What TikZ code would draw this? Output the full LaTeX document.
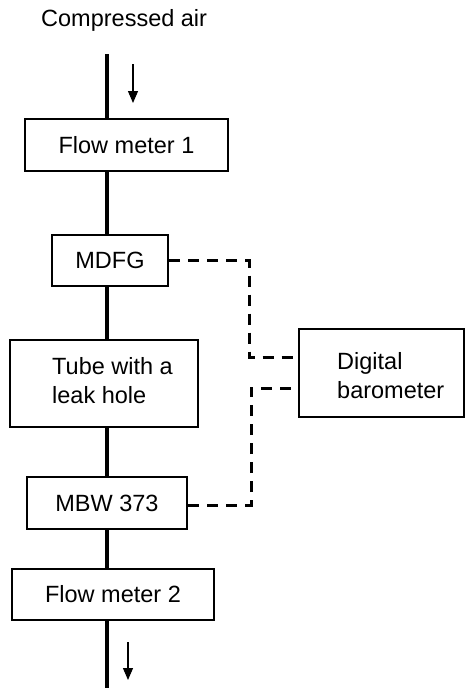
\documentclass[tikz,border=0pt]{standalone}
\usepackage{fontspec}
\setmainfont{Liberation Sans}
\usetikzlibrary{arrows.meta,calc}
\begin{document}
\begin{tikzpicture}[x=1pt,y=-1pt,
  txt/.style={font=\fontsize{23.5pt}{28.5pt}\selectfont, inner sep=0pt},
  box/.style={draw, line width=2pt, inner sep=0pt, font=\fontsize{23.5pt}{28.5pt}\selectfont},
  pipe/.style={line width=3.2pt},
  sig/.style={line width=3pt, dash pattern=on 11pt off 8pt},
  flow/.style={line width=1.1pt, -{Triangle[width=10pt,length=12pt]}}]
\useasboundingbox (0,0) rectangle (465,689);
% boxes
\node[box, minimum width=203pt, minimum height=52pt] (fm1) at (126.5,145) {Flow meter 1};
\node[box, minimum width=116pt, minimum height=51pt] (mdfg) at (110,260.5) {MDFG};
\node[box, minimum width=188pt, minimum height=87pt] (tube) at (104,383.5) {};
\node[txt, anchor=base west, align=left] (tubetxt) at (52,403.3) {Tube with a\\leak hole};
\node[box, minimum width=165pt, minimum height=88pt] (baro) at (381.5,373) {};
\node[txt, anchor=base west, align=left] (barotxt) at (337,398.3) {Digital\\barometer};
\node[box, minimum width=160pt, minimum height=52pt] (mbw) at (107,503) {MBW 373};
\node[box, minimum width=202pt, minimum height=51pt] (fm2) at (113,594.5) {Flow meter 2};
\node[txt, anchor=base west] (air) at (41,26.7) {Compressed air};
% main line
\coordinate (top) at (107,54);
\coordinate (bot) at (107,688);
\draw[pipe] (top) -- (top |- fm1.north);
\draw[pipe] (fm1.south -| top) -- (mdfg.north -| top);
\draw[pipe] (mdfg.south -| top) -- (tube.north -| top);
\draw[pipe] (tube.south -| top) -- (mbw.north -| top);
\draw[pipe] (mbw.south -| top) -- (fm2.north -| top);
\draw[pipe] (fm2.south -| top) -- (bot);
% flow arrows
\coordinate (a1s) at (133,64);
\coordinate (a1e) at (133,103);
\coordinate (a2s) at (128,642);
\coordinate (a2e) at (128,680);
\draw[flow] (a1s) -- (a1e);
\draw[flow] (a2s) -- (a2e);
% signal lines
\coordinate (b1) at ([yshift=16pt]baro.west);
\coordinate (b2) at ([yshift=-15pt]baro.west);
\draw[sig] (mdfg.east) -- ++(80,0) |- (b1);
\draw[sig] ([yshift=-2pt]mbw.east) -- ++(63,0) |- (b2);
\end{tikzpicture}
\end{document}
